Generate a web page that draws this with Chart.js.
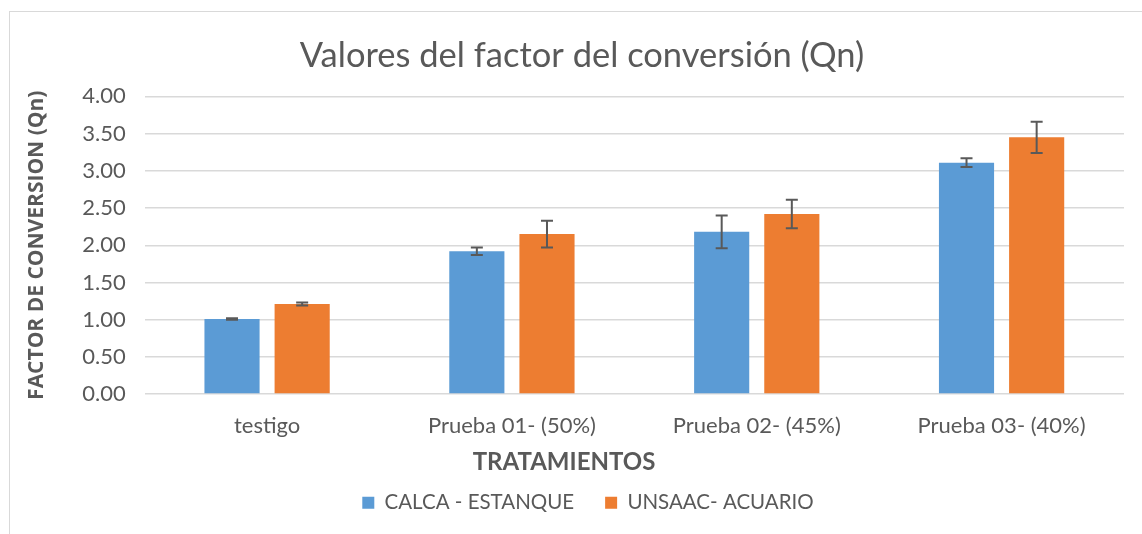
<!DOCTYPE html>
<html>
<head>
<meta charset="utf-8">
<script src="https://cdn.jsdelivr.net/npm/chart.js@4.4.1/dist/chart.umd.min.js"></script>
<style>
  html, body { margin: 0; padding: 0; background: #fff; overflow: hidden; }
  #wrap { position: relative; width: 1142px; height: 534px; }
  #frame {
    position: absolute; left: 9px; top: 11px; width: 1200px; height: 600px;
    border-left: 1.5px solid #d9d9d9; border-top: 1.5px solid #d9d9d9;
  }
  #myChart { position: absolute; left: 0; top: 0; }
</style>
</head>
<body>
<div id="wrap">
  <div id="frame"></div>
  <canvas id="myChart" width="1142" height="534"></canvas>
</div>
<script>
const categories = ['testigo', 'Prueba 01- (50%)', 'Prueba 02- (45%)', 'Prueba 03- (40%)']
const calcaValues = [1.01, 1.92, 2.18, 3.11]
const calcaErrors = [0.01, 0.05, 0.22, 0.06]
const unsaacValues = [1.21, 2.15, 2.42, 3.45]
const unsaacErrors = [0.02, 0.18, 0.19, 0.21]
const yTicks = [0, 0.5, 1, 1.5, 2, 2.5, 3, 3.5, 4]

const textColor = '#595959'
const font = 'Lato'
const xTitle = 'TRATAMIENTOS'
const xTitleFont = { family: font, size: 24, weight: 'bold' }

// draws +/- error whiskers on top of each bar
const errorBars = {
  id: 'errorBars',
  afterDatasetsDraw(chart) {
    const ctx = chart.ctx
    const yScale = chart.scales.y
    chart.data.datasets.forEach((ds, i) => {
      const meta = chart.getDatasetMeta(i)
      meta.data.forEach((bar, j) => {
        const v = ds.data[j]
        const e = ds.errors[j]
        const top = yScale.getPixelForValue(v + e)
        const bottom = yScale.getPixelForValue(v - e)
        const half = 6
        ctx.save()
        ctx.strokeStyle = '#595959'
        ctx.lineWidth = 2
        ctx.beginPath()
        ctx.moveTo(bar.x, top)
        ctx.lineTo(bar.x, bottom)
        ctx.moveTo(bar.x - half, top)
        ctx.lineTo(bar.x + half, top)
        ctx.moveTo(bar.x - half, bottom)
        ctx.lineTo(bar.x + half, bottom)
        ctx.stroke()
        ctx.restore()
      })
    })
  }
}

// the x axis title sits centred on the whole canvas, not on the plot area;
// the scale title only keeps a strip free at the bottom of the x axis
const centredXTitle = {
  id: 'centredXTitle',
  afterLayout(chart) {
    // nudge title and legend a little to the right
    chart.titleBlock.left += 8
    chart.titleBlock.right += 8
    chart.legend.left += 14
    chart.legend.right += 14
  },
  afterDraw(chart) {
    const ctx = chart.ctx
    const xScale = chart.scales.x
    ctx.save()
    ctx.font = `${xTitleFont.weight} ${xTitleFont.size}px ${xTitleFont.family}`
    ctx.fillStyle = textColor
    ctx.textAlign = 'center'
    ctx.textBaseline = 'middle'
    ctx.fillText(xTitle, chart.width / 2 - 7, xScale.bottom - 20)
    ctx.restore()
  }
}

const ctx = document.getElementById('myChart')
const myChart = new Chart(ctx, {
  type: 'bar',
  data: {
    labels: categories,
    datasets: [{
      label: 'CALCA - ESTANQUE',
      data: calcaValues,
      errors: calcaErrors,
      backgroundColor: '#5B9BD5',
      categoryPercentage: 0.573,
      barPercentage: 0.786
    }, {
      label: 'UNSAAC- ACUARIO',
      data: unsaacValues,
      errors: unsaacErrors,
      backgroundColor: '#ED7D31',
      categoryPercentage: 0.573,
      barPercentage: 0.786
    }]
  },
  options: {
    responsive: false,
    animation: false,
    layout: { padding: { left: 24, right: 18, top: 35, bottom: 11 } },
    plugins: {
      title: {
        display: true,
        text: 'Valores del factor del conversión (Qn)',
        color: textColor,
        font: { family: font, size: 34.5, weight: 'normal' },
        padding: { top: 0, bottom: 20 }
      },
      legend: {
        position: 'bottom',
        labels: {
          color: textColor,
          font: { family: font, size: 20.5 },
          boxWidth: 12,
          boxHeight: 12,
          padding: 10,
          generateLabels(chart) {
            const items = Chart.defaults.plugins.legend.labels.generateLabels(chart)
            // widen the gap between the two entries
            items[0].text += '    '
            return items
          }
        }
      },
      tooltip: { enabled: false }
    },
    scales: {
      x: {
        grid: { display: false, drawTicks: false, tickLength: 0 },
        border: { display: false },
        ticks: { color: textColor, font: { family: font, size: 22 }, padding: 19 },
        title: {
          display: true,
          text: xTitle,
          color: 'rgba(0,0,0,0)',
          font: { family: font, size: 10 },
          padding: { top: 12, bottom: 0 }
        }
      },
      y: {
        min: 0,
        max: 4,
        afterBuildTicks(axis) {
          axis.ticks = yTicks.map(v => ({ value: v }))
        },
        grid: { color: '#d9d9d9', lineWidth: 1.5, drawTicks: false, tickLength: 0 },
        border: { display: false },
        ticks: {
          color: textColor,
          font: { family: font, size: 22 },
          padding: 19,
          callback: v => Number(v).toFixed(2)
        },
        title: {
          display: true,
          text: 'FACTOR DE CONVERSION (Qn)',
          color: textColor,
          font: { family: 'Open Sans', size: 21, weight: 'bold' },
          padding: { top: 0, bottom: 14 }
        }
      }
    }
  },
  plugins: [errorBars, centredXTitle]
})
</script>
</body>
</html>
